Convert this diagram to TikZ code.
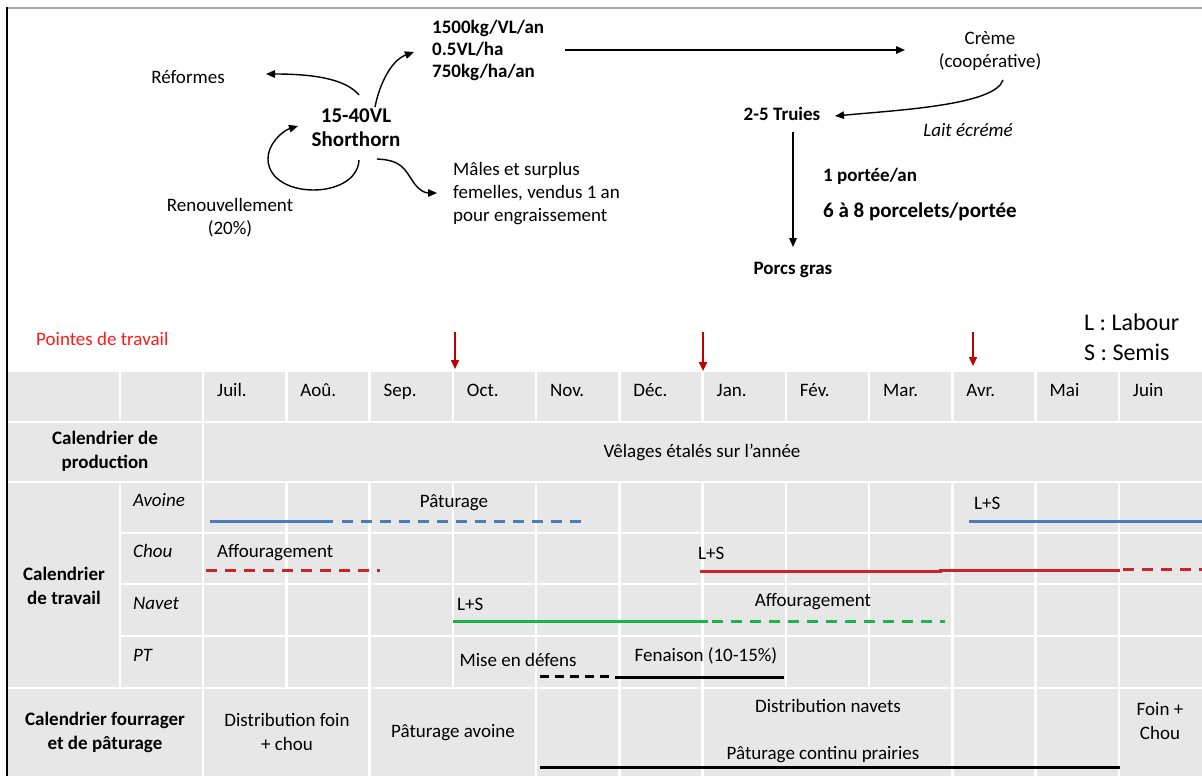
\documentclass[tikz,border=0pt]{standalone}
\usepackage{fontspec}
\setmainfont{Carlito}
\usetikzlibrary{arrows.meta}
\definecolor{cellgray}{HTML}{E7E7E7}
\definecolor{frameg}{HTML}{A6A6A6}
\definecolor{barblue}{HTML}{4A7EBB}
\definecolor{barred}{HTML}{C8242B}
\definecolor{bargreen}{HTML}{1DB24A}
\definecolor{arrred}{HTML}{C00000}
\definecolor{pointred}{HTML}{FF1A1A}
\begin{document}
\begin{tikzpicture}[x=1pt,y=-1pt,
  t/.style={font=\fontsize{19}{24}\selectfont, inner sep=0pt, align=center},
  tl/.style={t, align=left},
  ti/.style={t, font=\fontsize{19}{24}\selectfont\itshape, anchor=west},
  tb/.style={t, font=\fontsize{19}{24}\selectfont\bfseries},
  tbig/.style={t, font=\fontsize{21}{24}\selectfont\bfseries},
  arr/.style={-{Triangle[length=9pt,width=7.5pt]}, line width=1.4pt, black},
  redarr/.style={-{Triangle[length=9pt,width=8pt]}, line width=1.6pt, arrred},
  gridl/.style={white, line width=2.5pt},
  bar/.style={line width=3pt},
  dsh/.style={dash pattern=on 11pt off 8pt}]
\useasboundingbox (0,0) rectangle (1202,776);
% frame
\draw[frameg, line width=2pt] (7,8) -- (1202,8);
\draw[black, line width=2.2pt] (7,7) -- (7,776);

% ---------- top diagram ----------
\node[tbig] (herd) at (356,128) {15-40VL\\Shorthorn};
\node[t] (reformes) at (188,77) {Réformes};
\node[tb, align=left, anchor=west, font=\fontsize{19}{22}\selectfont\bfseries] (prod) at (432,50) {1500kg/VL/an\\0.5VL/ha\\750kg/ha/an};
\node[t, font=\fontsize{19}{23}\selectfont] (creme) at (990,51) {Crème\\(coopérative)};
\node[tb] (truies) at (782,114) {2-5 Truies};
\node[t, font=\fontsize{19}{24}\selectfont\itshape] (lait) at (968,130) {Lait écrémé};
\node[tb, anchor=west] (portee) at (823,176) {1 portée/an};
\node[tbig, anchor=west] (porcelets) at (823,212) {6 à 8 porcelets/portée};
\node[tb] (porcs) at (793,270) {Porcs gras};
\node[tl, anchor=west, font=\fontsize{19}{23}\selectfont] (males) at (453,194) {Mâles et surplus\\femelles, vendus 1 an\\pour engraissement};
\node[t, font=\fontsize{19}{23}\selectfont] (renouv) at (230,218) {Renouvellement\\(20\%)};

\coordinate (hR) at (359,95);
\coordinate (reT) at (266,74);
\coordinate (hU) at (375,107);
\coordinate (prT) at (414,52);
\coordinate (hL) at (359,160);
\coordinate (loT) at (298,126);
\coordinate (hM) at (377,159);
\coordinate (maT) at (437,193);
\coordinate (pS) at (565,50);
\coordinate (crT) at (905,50);
\coordinate (cS) at (1003,80);
\coordinate (trT) at (835,116);
\coordinate (tS) at (793,132);
\coordinate (poT) at (793,247);

\draw[arr] (hR) .. controls (345,78) and (310,74) .. (reT);
\draw[arr] (hU) .. controls (380,82) and (392,60) .. (prT);
\draw[arr] (hL) .. controls (357,200) and (270,200) .. (268,160) .. controls (267,145) and (282,131) .. (loT);
\draw[arr] (hM) .. controls (402,160) and (405,170) .. (412,180) .. controls (418,190) and (425,193) .. (maT);
\draw[arr] (pS) -- (crT);
\draw[arr] (cS) .. controls (995,105) and (900,110) .. (trT);
\draw[arr] (tS) -- (poT);

% ---------- legend ----------
\node[t, anchor=west, text=pointred] (pointes) at (36,339) {Pointes de travail};
\node[tl, anchor=west, font=\fontsize{24}{30}\selectfont] (legend) at (1084,337) {L : Labour\\S : Semis};
\coordinate (a1s) at (455,332); \coordinate (a1e) at (455,369);
\coordinate (a2s) at (703,332); \coordinate (a2e) at (703,371);
\coordinate (a3s) at (973,332); \coordinate (a3e) at (973,366);
\draw[redarr] (a1s) -- (a1e);
\draw[redarr, line width=2.8pt] (a2s) -- (a2e);
\draw[redarr] (a3s) -- (a3e);

% ---------- table ----------
\fill[cellgray] (8,372) rectangle (1202,776);
% horizontal grid
\draw[gridl] (8,422) -- (1202,422);
\draw[gridl] (8,482) -- (1202,482);
\draw[gridl] (120,533) -- (1202,533);
\draw[gridl] (120,584) -- (1202,584);
\draw[gridl] (120,636) -- (1202,636);
\draw[gridl] (8,688) -- (1202,688);
% vertical grid
\draw[gridl] (120,372) -- (120,422);
\draw[gridl] (120,482) -- (120,688);
\draw[gridl] (203,372) -- (203,776);
\foreach \k in {1,...,11}{
  \draw[gridl] ({203+83.25*\k},372) -- ({203+83.25*\k},422);
  \draw[gridl] ({203+83.25*\k},482) -- ({203+83.25*\k},688);
}
\foreach \k in {2,4,5,6,9,10,11}{
  \draw[gridl] ({203+83.25*\k},688) -- ({203+83.25*\k},776);
}
% month labels
\foreach \m [count=\i from 0] in {Juil.,Aoû.,Sep.,Oct.,Nov.,Déc.,Jan.,Fév.,Mar.,Avr.,Mai,Juin}{
  \node[t, anchor=base west] (m\i) at ({217+83.25*\i},396) {\m};
}
% row labels
\node[tb] (rprod) at (105,451) {Calendrier de\\production};
\node[t] (velage) at (702,452) {Vêlages étalés sur l’année};
\node[tb] (rtrav) at (64,586) {Calendrier\\de travail};
\node[ti] (avoine) at (133,500) {Avoine};
\node[ti] (chou) at (133,551) {Chou};
\node[ti] (navet) at (133,603) {Navet};
\node[ti] (pt) at (133,655) {PT};
\node[tb] (rfour) at (105,732) {Calendrier fourrager\\et de pâturage};

% Avoine
\node[t] (avp) at (454,503) {Pâturage};
\node[t, anchor=west] (avls) at (974,503) {L+S};
\draw[bar, barblue] (210,521) -- (333,521);
\draw[bar, barblue, dsh] (342,521) -- (582,521);
\draw[bar, barblue] (969,521) -- (1202,521);
% Chou
\node[t, anchor=west] (chaf) at (217,553) {Affouragement};
\node[t, anchor=west] (chls) at (698,553) {L+S};
\draw[bar, barred, dsh] (206,570) -- (380,570);
\draw[bar, barred] (700,571) -- (940,571) -- (940,570.5) -- (1120,570.5);
\draw[bar, barred, dsh] (1123,569) -- (1202,569);
% Navet
\node[t, anchor=west] (nals) at (457,604) {L+S};
\node[t] (naaf) at (813,602) {Affouragement};
\draw[bar, bargreen] (453,621) -- (708,621);
\draw[bar, bargreen, dsh] (712,621) -- (945,621);
% PT
\node[t] (ptm) at (518,660) {Mise en défens};
\node[t] (ptf) at (706,656) {Fenaison (10-15\%)};
\draw[bar, black, dash pattern=on 9pt off 6pt] (540,676) -- (612,676);
\draw[bar, black] (615,677) -- (784,677);
% fourrager
\node[t] (dfc) at (287,732) {Distribution foin\\+ chou};
\node[t] (pav) at (453,733) {Pâturage avoine};
\node[t] (dnav) at (828,706) {Distribution navets};
\node[t] (pcp) at (823,755) {Pâturage continu prairies};
\node[t] (fch) at (1160,721) {Foin +\\Chou};
\draw[bar, black] (540,767) -- (1120,767);
\end{tikzpicture}
\end{document}
